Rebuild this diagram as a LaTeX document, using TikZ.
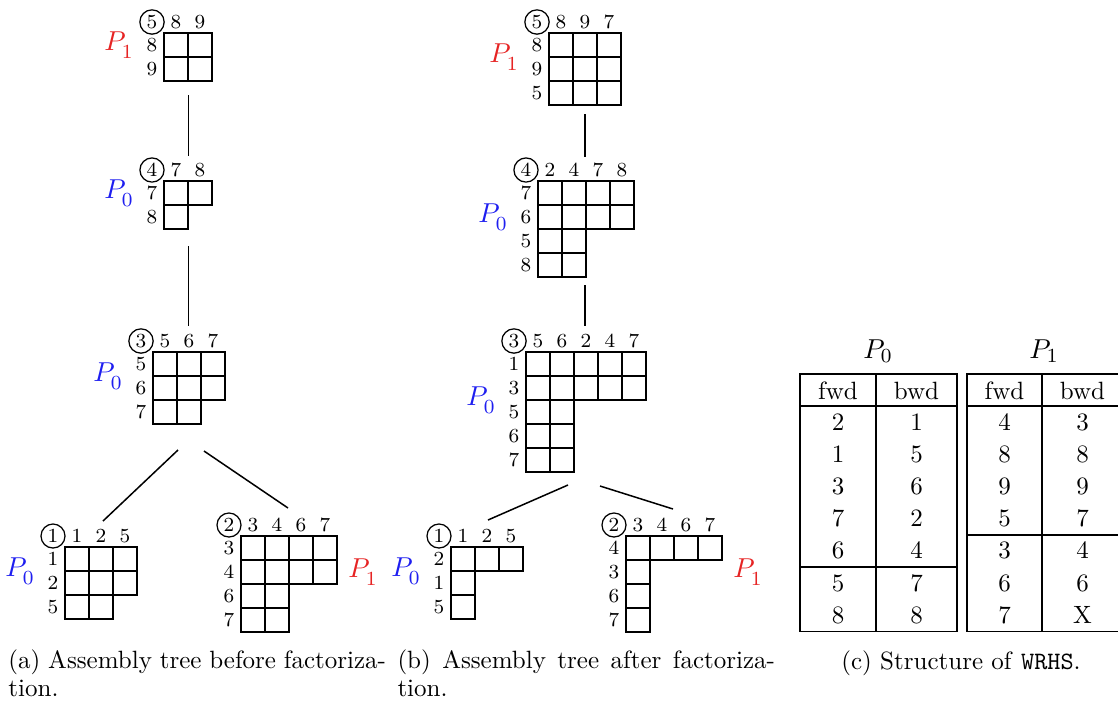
\documentclass[tikz,border=0pt]{standalone}
\usepackage{xcolor}
\definecolor{pred}{RGB}{230,35,35}
\definecolor{pblue}{RGB}{30,30,240}
\newcommand\fnode[6]{%
  \node[circ] (#1-c) at ({#2-12},{#3-11}) {#4};
  \foreach \h [count=\i] in {#5} \node[lab] (#1-h\i) at ({#2+24*\i-12},{#3-11}) {\h};
  \foreach \r/\n [count=\j] in {#6} {%
    \node[lab] (#1-r\j) at ({#2-12},{#3+24*\j-12}) {\r};
    \foreach \k in {1,...,\n} \draw[gridcell] ({#2+24*\k-24},{#3+24*\j-24}) rectangle ++(24,24);
  }%
}
\newcommand\plabel[5]{\node[plab,text=#4] (#1) at (#2,#3) {$P_{\lower1.5pt\hbox{$\scriptstyle #5$}}$};}
\begin{document}
\begin{tikzpicture}[x=0.4pt,y=-0.4pt,
  gridcell/.style={draw, line width=0.7pt},
  lab/.style={font=\footnotesize, inner sep=0pt},
  circ/.style={draw, circle, font=\footnotesize, inner sep=1pt, line width=0.5pt},
  plab/.style={font=\fontsize{11}{13}\selectfont, inner sep=0pt},
  treeedge/.style={line width=0.6pt},
  tline/.style={line width=0.5pt},
  tcell/.style={anchor=base, inner sep=0pt},
  captext/.style={anchor=base west, inner sep=0pt},
]
\useasboundingbox (0,0) rectangle (1118,702);

% ---------- tree (a)
\fnode{a5}{164}{33}{5}{8,9}{8/2,9/2}
\fnode{a4}{164}{181}{4}{7,8}{7/2,8/1}
\fnode{a3}{153}{352}{3}{5,6,7}{5/3,6/3,7/2}
\fnode{a1}{65}{547}{1}{1,2,5}{1/3,2/3,5/2}
\fnode{a2}{241}{536}{2}{3,4,6,7}{3/4,4/4,6/2,7/2}
\plabel{pa5}{119}{45}{pred}{1}
\plabel{pa4}{119}{193}{pblue}{0}
\plabel{pa3}{108}{376}{pblue}{0}
\plabel{pa1}{20}{571}{pblue}{0}
\plabel{pa2}{363}{572}{pred}{1}
\coordinate (ae1s) at (188.5,95);  \coordinate (ae1e) at (188.5,156);
\coordinate (ae2s) at (188.5,246); \coordinate (ae2e) at (188.5,326);
\coordinate (ae3s) at (178,450);   \coordinate (ae3e) at (103,521);
\coordinate (ae4s) at (204,451);   \coordinate (ae4e) at (288,508);
\draw[treeedge] (ae1s) -- (ae1e);
\draw[treeedge] (ae2s) -- (ae2e);
\draw[treeedge] (ae3s) -- (ae3e);
\draw[treeedge] (ae4s) -- (ae4e);

% ---------- tree (b)
\fnode{b5}{549}{33}{5}{8,9,7}{8/3,9/3,5/3}
\fnode{b4}{538}{181}{4}{2,4,7,8}{7/4,6/4,5/2,8/2}
\fnode{b3}{526}{352}{3}{5,6,2,4,7}{1/5,3/5,5/2,6/2,7/2}
\fnode{b1}{451}{547}{1}{1,2,5}{2/3,1/1,5/1}
\fnode{b2}{626}{536}{2}{3,4,6,7}{4/4,3/1,6/1,7/1}
\plabel{pb5}{504}{57}{pred}{1}
\plabel{pb4}{493}{217}{pblue}{0}
\plabel{pb3}{481}{400}{pblue}{0}
\plabel{pb1}{406}{571}{pblue}{0}
\plabel{pb2}{748}{572}{pred}{1}
\coordinate (be1s) at (585,114);  \coordinate (be1e) at (585,157);
\coordinate (be2s) at (585,285);  \coordinate (be2e) at (585,326);
\coordinate (be3s) at (568,485);  \coordinate (be3e) at (488,520);
\coordinate (be4s) at (600,486);  \coordinate (be4e) at (673,509);
\draw[treeedge] (be1s) -- (be1e);
\draw[treeedge] (be2s) -- (be2e);
\draw[treeedge] (be3s) -- (be3e);
\draw[treeedge] (be4s) -- (be4e);

% ---------- table (c)
\draw[tline] (800,374) rectangle (957,631.4);
\draw[tline] (876,374) -- (876,631.4);
\draw[tline] (800,406) -- (957,406);
\draw[tline] (800,567) -- (957,567);
\draw[tline] (967,374) rectangle (1123,631.4);
\draw[tline] (1042,374) -- (1042,631.4);
\draw[tline] (967,406) -- (1123,406);
\draw[tline] (967,535) -- (1123,535);
\node[tcell, font=\fontsize{11}{13}\selectfont] (t0) at (878,358) {$P_0$};
\node[tcell, font=\fontsize{11}{13}\selectfont] (t1) at (1044,358) {$P_1$};
\node[tcell] (h0f) at (838,399) {fwd};
\node[tcell] (h0b) at (916.5,399) {bwd};
\node[tcell] (h1f) at (1004.5,399) {fwd};
\node[tcell] (h1b) at (1082.5,399) {bwd};
\foreach \v [count=\i] in {2,1,3,7,6,5,8} \node[tcell] (pf\i) at (838,{397.9+32.2*\i}) {\v};
\foreach \v [count=\i] in {1,5,6,2,4,7,8} \node[tcell] (pb\i) at (916.5,{397.9+32.2*\i}) {\v};
\foreach \v [count=\i] in {4,8,9,5,3,6,7} \node[tcell] (qf\i) at (1004.5,{397.9+32.2*\i}) {\v};
\foreach \v [count=\i] in {3,8,9,7,4,6,X} \node[tcell] (qb\i) at (1082.5,{397.9+32.2*\i}) {\v};

% ---------- captions
\node[captext] (capa1) at (8,668) {\hbox to 151pt{(a) Assembly tree before factoriza-}};
\node[captext] (capa2) at (8,696) {tion.};
\node[captext] (capb1) at (397,668) {\hbox to 151pt{(b) Assembly tree after factoriza-}};
\node[captext] (capb2) at (397,696) {tion.};
\node[anchor=base, inner sep=0pt] (capc) at (961,669) {(c) Structure of \texttt{WRHS}.};
\end{tikzpicture}
\end{document}
